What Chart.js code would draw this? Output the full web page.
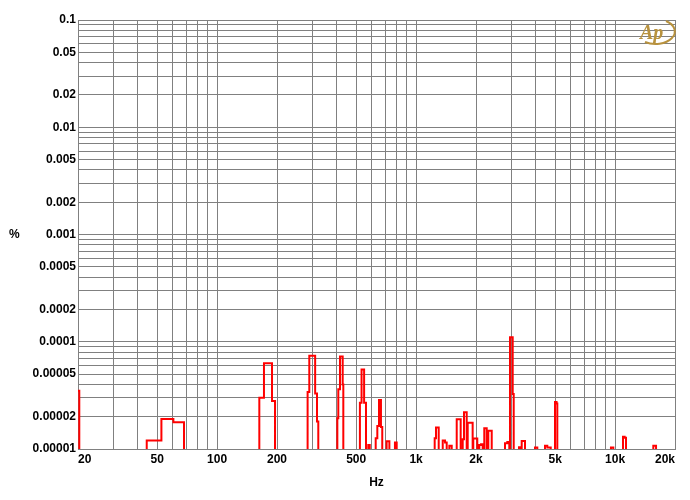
<!DOCTYPE html>
<html><head><meta charset="utf-8">
<script src="https://cdn.jsdelivr.net/npm/chart.js@4/dist/chart.umd.min.js"></script>
<style>
html,body{margin:0;padding:0;background:#fff;}
#wrap{position:relative;width:690px;height:500px;}
#pct{position:absolute;left:9px;top:227px;font:bold 12px "Liberation Sans",Arial,sans-serif;color:#000;}
#logo{position:absolute;left:636px;top:17px;}
</style></head><body>
<div id="wrap">
<canvas id="c" width="690" height="500"></canvas>
<div id="pct">%</div>
<svg id="logo" width="42" height="30" viewBox="0 0 42 30">
<path d="M9,25 A17,11 0 1 0 30,4" fill="none" stroke="#b8923e" stroke-width="2"/>
<text x="4" y="22" font-family="Liberation Serif" font-style="italic" font-weight="bold" font-size="20" fill="#b8923e">Ap</text>
</svg>
</div>
<script>
// Spectrum trace (step levels start at each frequency); 3e-6 = below floor
const freqHz = [20,20.3,44.3,52.5,60.3,68.2,163,172,188.8,195.5,285,290.6,311,317.7,322.5,
  402,406.5,414.6,427.7,430.8,522,532,548,560,575,585,626.6,638.5,651,666,676,711,734,783,799,
  1240,1259,1299,1361,1398,1425,1469,1510,1600,1675,1715,1741,1796,1817,1924,1938,2030,
  2078,2120,2161,2201,2264,2306,2399,2797,2873,2940,2965,3058,3094,3289,3366,3394,3526,
  3959,4065,4444,4564,4748,4988,5080,5124,9532,9796,10960,11167,11345,15560,16060,20000];
const thdPct = [3.5e-5,3e-6,1.2e-5,1.9e-5,1.78e-5,3e-6,3.0e-5,6.3e-5,2.8e-5,3e-6,3.4e-5,7.4e-5,3.3e-5,1.8e-5,3e-6,
  1.93e-5,3.6e-5,7.3e-5,4.0e-5,3e-6,2.7e-5,5.5e-5,2.7e-5,3e-6,1.09e-5,3e-6,1.26e-5,1.64e-5,2.86e-5,1.6e-5,3e-6,1.18e-5,3e-6,1.15e-5,3e-6,
  1.26e-5,1.59e-5,3e-6,1.2e-5,1.15e-5,3e-6,1.07e-5,3e-6,1.89e-5,3e-6,1.23e-5,2.2e-5,3e-6,1.76e-5,3e-6,1.25e-5,3e-6,
  1.09e-5,1.11e-5,3e-6,1.56e-5,3e-6,1.48e-5,3e-6,1.13e-5,1.16e-5,3e-6,1.1e-4,3.26e-5,3e-6,1.04e-5,3e-6,1.19e-5,3e-6,
  1.03e-5,3e-6,1.07e-5,1.03e-5,3e-6,2.74e-5,2.66e-5,3e-6,1.03e-5,3e-6,1.3e-5,1.27e-5,3e-6,1.07e-5,3e-6,3e-6];

const xTickValues = [20,50,100,200,500,1000,2000,5000,10000,20000];
const xTickLabels = ['20','50','100','200','500','1k','2k','5k','10k','20k'];
const yTickValues = [0.1,0.05,0.02,0.01,0.005,0.002,0.001,0.0005,0.0002,0.0001,0.00005,0.00002,0.00001];
const yTickLabels = ['0.1','0.05','0.02','0.01','0.005','0.002','0.001','0.0005','0.0002','0.0001','0.00005','0.00002','0.00001'];

function logGrid(min, max) {
  const out = [];
  for (let e = Math.floor(Math.log10(min)); e <= Math.ceil(Math.log10(max)); e++) {
    for (let k = 1; k < 10; k++) {
      const v = +(k * Math.pow(10, e)).toPrecision(6);
      if (v >= min * 0.999 && v <= max * 1.001) out.push(v);
    }
  }
  return out;
}
function labelFor(vals, labs) {
  return (v) => { const i = vals.findIndex(t => Math.abs(t - v) / t < 1e-6); return i >= 0 ? labs[i] : ''; };
}
const font = {family: '"Liberation Sans", Arial, sans-serif', size: 12, weight: 'bold'};
const gridCol = '#808080';

new Chart(document.getElementById('c'), {
  type: 'line',
  data: {
    datasets: [{
      data: freqHz.map((f, i) => ({x: f, y: thdPct[i]})),
      borderColor: '#ff0000', borderWidth: 2, pointRadius: 0, stepped: 'before',
      fill: false, tension: 0, clip: {left: 1, top: 0, right: 0, bottom: 0}
    }]
  },
  options: {
    responsive: false, animation: false, devicePixelRatio: 1,
    layout: {padding: {left: 0, top: 20, right: 15, bottom: 0}},
    plugins: {legend: {display: false}, tooltip: {enabled: false}},
    scales: {
      x: {
        type: 'logarithmic', min: 20, max: 20000,
        afterBuildTicks: s => { s.ticks = logGrid(20, 20000).map(v => ({value: v})); },
        afterFit: s => { s.height = 51; },
        ticks: {autoSkip: false, maxRotation: 0, padding: 3, align: 'inner', color: '#000', font,
          callback: labelFor(xTickValues, xTickLabels)},
        grid: {color: gridCol, lineWidth: 1, drawTicks: false},
        border: {color: gridCol, width: 1},
        title: {display: true, text: 'Hz', color: '#000', font, padding: {top: 0, bottom: 10}}
      },
      y: {
        type: 'logarithmic', min: 0.00001, max: 0.1,
        afterBuildTicks: s => { s.ticks = logGrid(0.00001, 0.1).map(v => ({value: v})); },
        afterFit: s => { s.width = 78; },
        ticks: {autoSkip: false, padding: 2, color: '#000', font,
          callback: labelFor(yTickValues, yTickLabels)},
        grid: {color: gridCol, lineWidth: 1, drawTicks: false},
        border: {color: gridCol, width: 1}
      }
    }
  }
});
</script>
</body></html>
